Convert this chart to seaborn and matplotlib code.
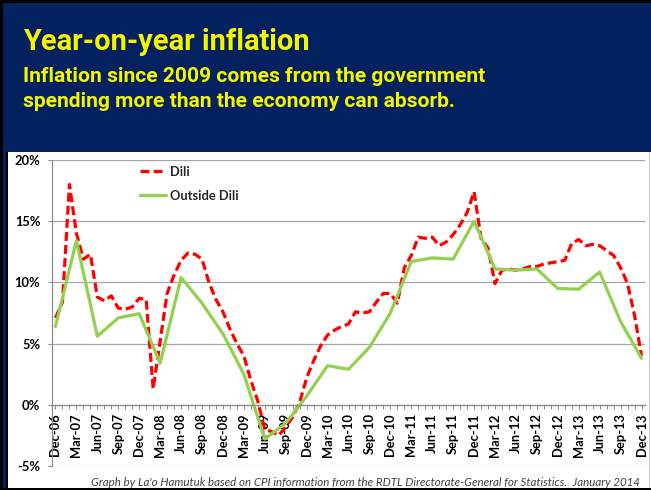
import numpy as np
import pandas as pd
import matplotlib
matplotlib.use("Agg")
import matplotlib.pyplot as plt
import seaborn as sns
from matplotlib.patches import Rectangle
from matplotlib.ticker import MultipleLocator

# ---------------- data ----------------
tick_labels = ["Dec-06", "Mar-07", "Jun-07", "Sep-07", "Dec-07", "Mar-08", "Jun-08",
               "Sep-08", "Dec-08", "Mar-09", "Jun-09", "Sep-09", "Dec-09", "Mar-10",
               "Jun-10", "Sep-10", "Dec-10", "Mar-11", "Jun-11", "Sep-11", "Dec-11",
               "Mar-12", "Jun-12", "Sep-12", "Dec-12", "Mar-13", "Jun-13", "Sep-13",
               "Dec-13"]

# Dili, monthly (Dec-06 .. Dec-13), %
dili = [7.1, 8.4, 18.0, 14.0, 11.9, 12.3, 8.8, 8.5, 8.9, 7.9, 7.8, 8.0,
        8.7, 8.6, 1.3, 5.2, 9.1, 10.6, 11.8, 12.4, 12.3, 11.9, 10.0, 8.6,
        7.6, 6.2, 5.0, 4.0, 2.0, 0.3, -2.0, -2.2, -2.5, -1.8, -1.0, 0.2,
        2.2, 3.6, 4.8, 5.7, 6.1, 6.4, 6.6, 7.6, 7.5, 7.6, 8.4, 9.1,
        9.1, 8.3, 11.2, 12.2, 13.7, 13.6, 13.7, 13.0, 13.3, 13.9, 14.7, 15.7,
        17.4, 13.6, 12.8, 9.9, 11.0, 11.1, 11.0, 11.1, 11.3, 11.3, 11.5, 11.6,
        11.7, 11.8, 13.2, 13.5, 13.0, 13.1, 13.0, 12.6, 12.2, 11.2, 9.9, 7.3,
        4.0]

# Outside Dili, quarterly (Dec-06 .. Dec-13), %
outside = [6.4, 13.4, 5.6, 7.1, 7.45, 3.4, 10.4, 8.3, 5.8, 2.5, -2.8, -1.5,
           0.7, 3.2, 2.9, 4.7, 7.5, 11.7, 12.0, 11.9, 15.0, 11.1, 11.0, 11.1,
           9.5, 9.45, 10.85, 6.8, 3.8]

months = list(range(len(dili)))
quarter_months = list(range(0, len(dili), 3))

title = "Year-on-year inflation"
subtitle1 = "Inflation since 2009 comes from the government"
subtitle2 = "spending more than the economy can absorb."
footer = ("Graph by La'o Hamutuk based on CPI information from the RDTL "
          "Directorate-General for Statistics.  January 2014")

# ---------------- style ----------------
sns.set_style("white")
plt.rcParams["font.family"] = ["Lato", "DejaVu Sans"]

W, H = 651, 490
NAVY = "#03205F"
YELLOW = "#F5F500"
GRID = "#A6A6A6"


def fx(px):
    return px / W


def fy(py):
    return 1 - py / H


fig = plt.figure(figsize=(W / 100, H / 100), dpi=100)
fig.patch.set_facecolor("white")

# slide decorations
fig.add_artist(Rectangle((0, fy(152)), 1, 1 - fy(152), transform=fig.transFigure,
                         facecolor=NAVY, edgecolor="none", zorder=-1))
fig.add_artist(Rectangle((0, fy(490)), fx(6), fy(152) - fy(490), transform=fig.transFigure,
                         facecolor=NAVY, edgecolor="none", zorder=-1))
fig.add_artist(Rectangle((fx(6), fy(490)), fx(2), fy(152) - fy(490), transform=fig.transFigure,
                         facecolor="black", edgecolor="none", zorder=-1))
fig.add_artist(Rectangle((0, fy(3)), 1, 1 - fy(3), transform=fig.transFigure,
                         facecolor="black", edgecolor="none", zorder=-1))
fig.add_artist(Rectangle((0, 0), fx(3), 1, transform=fig.transFigure,
                         facecolor="black", edgecolor="none", zorder=-1))
fig.add_artist(Rectangle((fx(648.5), fy(487)), fx(1), fy(152) - fy(487), transform=fig.transFigure,
                         facecolor="#C8C8C8", edgecolor="none", zorder=-1))

# ---------------- axes ----------------
ax = fig.add_axes([fx(52), fy(466), fx(645) - fx(52), fy(160) - fy(466)])
ax.set_facecolor("none")

df_d = pd.DataFrame({"month": months, "value": dili})
df_o = pd.DataFrame({"month": quarter_months, "value": outside})

sns.lineplot(data=df_d, x="month", y="value", ax=ax, color="#FF0000", lw=2.3,
             linestyle=(0, (2.8, 1.3)), label="Dili", errorbar=None, sort=False)
sns.lineplot(data=df_o, x="month", y="value", ax=ax, color="#92D050", lw=2.3,
             label="Outside Dili", errorbar=None, sort=False)

ax.set_xlim(-0.5, len(dili) - 0.5)
ax.set_ylim(-5, 20)
ax.set_xlabel("")
ax.set_ylabel("")

yt = [-5, 0, 5, 10, 15, 20]
ax.set_yticks(yt)
ax.set_yticklabels([f"{v}%" for v in yt])
ax.set_xticks(quarter_months)
ax.set_xticklabels(tick_labels)
ax.xaxis.set_minor_locator(MultipleLocator(1))

ax.yaxis.grid(True, color=GRID, lw=0.9)
ax.xaxis.grid(False)
ax.set_axisbelow(True)

for s in ["top", "right"]:
    ax.spines[s].set_visible(False)
ax.spines["bottom"].set_position(("data", 0))
ax.spines["bottom"].set_color("#8C8C8C")
ax.spines["bottom"].set_linewidth(0.9)
ax.spines["left"].set_color("#8C8C8C")
ax.spines["left"].set_linewidth(0.9)

ax.tick_params(axis="x", which="both", bottom=True, direction="out", length=3,
               width=0.8, color="#8C8C8C", pad=3, labelcolor="black")
ax.tick_params(axis="x", which="major", labelrotation=90, labelsize=9.3)
ax.tick_params(axis="y", left=True, direction="out", length=3, width=0.8,
               color="#8C8C8C", pad=5.5, labelcolor="black", labelsize=9.3)
for lab in ax.get_xticklabels() + ax.get_yticklabels():
    lab.set_fontweight("bold")

ax.legend(loc="upper left", bbox_to_anchor=(fx(140), fy(166)), bbox_transform=fig.transFigure,
          frameon=False, prop={"weight": "bold", "size": 9.3}, handlelength=2.0,
          handletextpad=0.3, labelspacing=0.9, borderpad=0, borderaxespad=0)

# ---------------- texts ----------------
renderer = fig.canvas.get_renderer()


def fit_width(txt, target_px):
    bb = txt.get_window_extent(renderer=renderer)
    txt.set_fontsize(txt.get_fontsize() * target_px / bb.width)


t_title = fig.text(fx(23), fy(50), title, color=YELLOW, fontsize=21, fontweight="bold",
                   family=["Roboto", "DejaVu Sans"], va="baseline", ha="left")
fit_width(t_title, 287)

t_s1 = fig.text(fx(23), fy(82), subtitle1, color=YELLOW, fontsize=15, fontweight="bold",
                family=["Roboto", "DejaVu Sans"], va="baseline", ha="left")
fit_width(t_s1, 463)
t_s2 = fig.text(fx(23), fy(107), subtitle2, color=YELLOW, fontsize=t_s1.get_fontsize(),
                fontweight="bold", family=["Roboto", "DejaVu Sans"], va="baseline", ha="left")

t_f = fig.text(fx(640), fy(486), footer, color="#3F3F3F", fontsize=7.5, style="italic",
               family=["Lato", "DejaVu Sans"], va="baseline", ha="right")
fit_width(t_f, 545)

fig.add_artist(Rectangle((0, 0), 1, fy(487.5), transform=fig.transFigure,
                         facecolor="black", edgecolor="none", zorder=10))

fig.savefig("out.png", dpi=100)
